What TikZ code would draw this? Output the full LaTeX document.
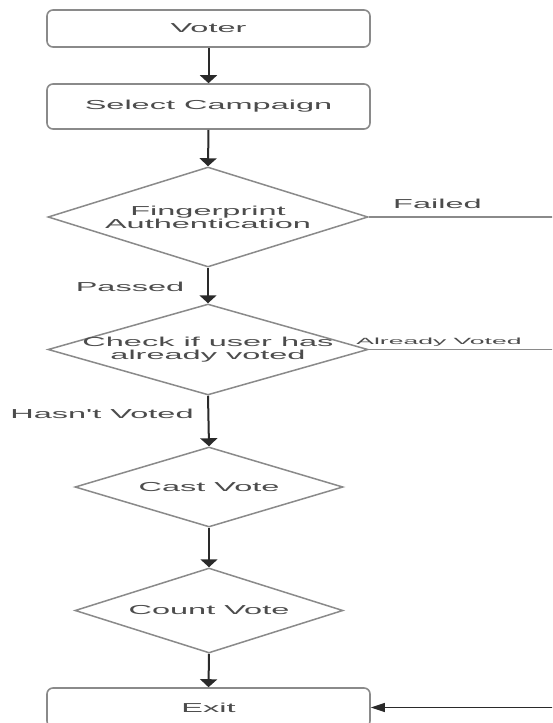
\documentclass[tikz,border=0pt]{standalone}
\usepackage{fontspec}
\usetikzlibrary{shapes.geometric,arrows.meta}
\newfontfamily\wf[FakeStretch=2.5]{Liberation Sans}
\newfontfamily\wfs[FakeStretch=2.95]{Liberation Sans}
\definecolor{txtc}{HTML}{4C4C4C}
\definecolor{shapec}{HTML}{8A8A8A}
\definecolor{arrc}{HTML}{2A2A2A}
\tikzset{
  box/.style={draw=shapec, line width=1.6pt, rounded corners=6pt, minimum width=323pt, inner sep=0pt},
  dia/.style={draw=shapec, line width=1.5pt, diamond, inner sep=0pt},
  txt/.style={text=txtc, font=\wf\fontsize{13}{13}\selectfont, align=center, inner sep=0pt},
  lbl/.style={text=txtc, font=\wf\fontsize{13}{13}\selectfont, inner sep=0pt},
  slbl/.style={text=txtc, font=\wfs\fontsize{9}{9}\selectfont, inner sep=0pt},
  flow/.style={draw=arrc, line width=2pt, -{Triangle[width=17pt,length=8pt]}},
  side/.style={draw=shapec, line width=1.5pt},
  back/.style={draw=arrc, line width=1.2pt, -{Triangle[width=9pt,length=14pt]}}
}
\begin{document}
\begin{tikzpicture}[x=1pt,y=-1pt]
\useasboundingbox (0,0) rectangle (552,723);
\fill[white] (0,0) rectangle (552,723);
\clip (0,0) rectangle (552,723);
% boxes
\node[box, minimum height=37pt] (voter) at (208.5,28.5) {};
\node[txt] (tvoter) at (voter.center) {Voter};
\node[box, minimum height=45pt] (sel) at (208.5,106.5) {};
\node[txt] (tsel) at (sel.center) {Select Campaign};
% diamonds
\node[dia, minimum width=320pt, minimum height=100pt] (fp) at (208,217) {};
\node[txt] (tfp) at (fp.center) {Fingerprint\\Authentication};
\node[dia, minimum width=320pt, minimum height=91pt] (chk) at (208,349.5) {};
\node[txt] (tchk) at (chk.center) {Check if user has\\already voted};
\node[dia, minimum width=268pt, minimum height=80pt] (cast) at (209,487) {};
\node[txt] (tcast) at (cast.center) {Cast Vote};
\node[dia, minimum width=268pt, minimum height=85pt] (count) at (209,610.5) {};
\node[txt] (tcount) at (count.center) {Count Vote};
\node[box, minimum height=39pt] (exit) at (208.5,707.5) {};
\node[txt] (texit) at (exit.center) {Exit};
% labels
\node[lbl] (lfail) at (437.5,204) {Failed};
\node[lbl] (lpass) at (130,287) {Passed};
\node[slbl] (lalr) at (439,342) {Already Voted};
\node[lbl] (lhasnt) at (102,414) {Hasn't Voted};
% flow arrows
\draw[flow] (voter.south) -- (sel.north);
\draw[flow] (sel.south) -- (fp.north);
\draw[flow] (fp.south) -- (chk.north);
\draw[flow] (chk.south) -- (cast.north);
\draw[flow] (cast.south) -- (count.north);
\draw[flow] (count.south) -- (exit.north);
% side branches
\coordinate (r1) at (557,217);
\coordinate (r2) at (557,349.5);
\coordinate (r3) at (557,707.5);
\draw[side] (fp.east) -- (r1) -- (r3);
\draw[side] (chk.east) -- (r2);
\draw[back] (r3) -- (exit.east);
\end{tikzpicture}
\end{document}
